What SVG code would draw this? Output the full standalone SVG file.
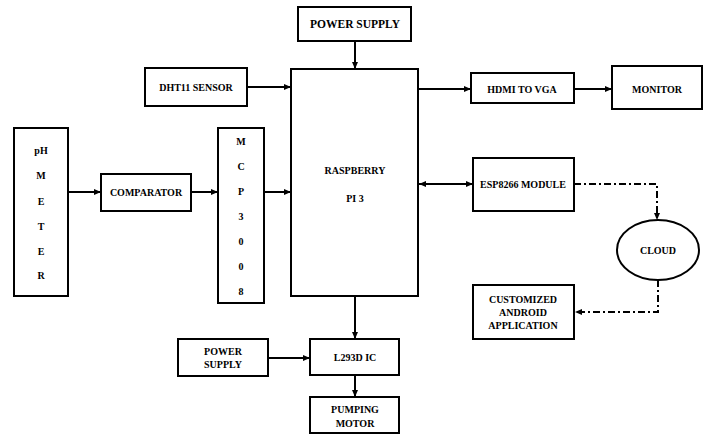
<svg xmlns="http://www.w3.org/2000/svg" width="711" height="437" viewBox="0 0 711 437">
<style>
.box{fill:#fff;stroke:#000;stroke-width:2}
.t{font-family:"Liberation Serif","Times New Roman",serif;font-weight:bold;font-size:10px;fill:#000;text-anchor:middle}
.c{stroke:#000;stroke-width:2;fill:none}
.d{stroke:#000;stroke-width:2;fill:none;stroke-dasharray:7,3,2,3}
</style>
<defs>
<marker id="ah" markerUnits="userSpaceOnUse" markerWidth="8" markerHeight="8" refX="7" refY="4" orient="auto">
<path d="M0,1 L7,4 L0,7 Z" fill="#000"/>
</marker>
<marker id="as" markerUnits="userSpaceOnUse" markerWidth="8" markerHeight="8" refX="0" refY="4" orient="auto">
<path d="M7,1 L0,4 L7,7 Z" fill="#000"/>
</marker>
</defs>
<rect width="711" height="437" fill="#fff"/>
<g id="connectors">
<line class="c" x1="355" y1="41" x2="355" y2="69" marker-end="url(#ah)"/>
<line class="c" x1="247" y1="87" x2="291" y2="87" marker-end="url(#ah)"/>
<line class="c" x1="68" y1="192" x2="101" y2="192" marker-end="url(#ah)"/>
<line class="c" x1="191" y1="192" x2="218" y2="192" marker-end="url(#ah)"/>
<line class="c" x1="264" y1="192" x2="291" y2="192" marker-end="url(#ah)"/>
<line class="c" x1="418" y1="89" x2="471" y2="89" marker-end="url(#ah)"/>
<line class="c" x1="574" y1="89" x2="612" y2="89" marker-end="url(#ah)"/>
<line class="c" x1="419" y1="184" x2="473" y2="184" marker-start="url(#as)" marker-end="url(#ah)"/>
<polyline class="d" points="574,184 657,184 657,220" marker-end="url(#ah)"/>
<polyline class="d" points="658,280 658,312 575,312" marker-end="url(#ah)"/>
<line class="c" x1="355" y1="296" x2="355" y2="339" marker-end="url(#ah)"/>
<line class="c" x1="268" y1="358" x2="310" y2="358" marker-end="url(#ah)"/>
<line class="c" x1="355" y1="375" x2="355" y2="397" marker-end="url(#ah)"/>
</g>
<g id="power-supply-top">
<rect class="box" x="298" y="7" width="113" height="34"/>
<text class="t" x="355" y="28" style="font-size:11.5px">POWER SUPPLY</text>
</g>
<g id="dht11">
<rect class="box" x="145" y="68" width="102" height="38"/>
<text class="t" x="196" y="90.5">DHT11 SENSOR</text>
</g>
<g id="ph-meter">
<rect class="box" x="14" y="128" width="54" height="168"/>
<text class="t" x="41" y="153.5">pH</text>
<text class="t" x="41" y="179">M</text>
<text class="t" x="41" y="205">E</text>
<text class="t" x="41" y="230">T</text>
<text class="t" x="41" y="255">E</text>
<text class="t" x="41" y="279">R</text>
</g>
<g id="comparator">
<rect class="box" x="101" y="174" width="90" height="37"/>
<text class="t" x="146" y="195.5">COMPARATOR</text>
</g>
<g id="mcp3008">
<rect class="box" x="218" y="128" width="46" height="175"/>
<text class="t" x="241" y="144.5">M</text>
<text class="t" x="241" y="169.5">C</text>
<text class="t" x="241" y="194.5">P</text>
<text class="t" x="241" y="219.5">3</text>
<text class="t" x="241" y="244.5">0</text>
<text class="t" x="241" y="269.5">0</text>
<text class="t" x="241" y="294.5">8</text>
</g>
<g id="raspberry">
<rect class="box" x="291" y="69" width="127" height="227"/>
<text class="t" x="355" y="173.5">RASPBERRY</text>
<text class="t" x="355" y="201.5">PI 3</text>
</g>
<g id="hdmi">
<rect class="box" x="471" y="73" width="103" height="30"/>
<text class="t" x="522" y="92.5">HDMI TO VGA</text>
</g>
<g id="monitor">
<rect class="box" x="612" y="66" width="90" height="43"/>
<text class="t" x="657" y="92.5">MONITOR</text>
</g>
<g id="esp8266">
<rect class="box" x="473" y="158" width="101" height="53"/>
<text class="t" x="523" y="187.5">ESP8266 MODULE</text>
</g>
<g id="cloud">
<ellipse class="box" cx="658" cy="250" rx="41" ry="30"/>
<text class="t" x="658" y="253.5">CLOUD</text>
</g>
<g id="android">
<rect class="box" x="473" y="285" width="101" height="54"/>
<text class="t" x="523" y="302.5">CUSTOMIZED</text>
<text class="t" x="523" y="315.5">ANDROID</text>
<text class="t" x="523" y="328.5">APPLICATION</text>
</g>
<g id="power-supply-bottom">
<rect class="box" x="178" y="339" width="90" height="37"/>
<text class="t" x="223" y="354.5">POWER</text>
<text class="t" x="223" y="367.5">SUPPLY</text>
</g>
<g id="l293d">
<rect class="box" x="310" y="339" width="89" height="36"/>
<text class="t" x="355" y="360.5">L293D IC</text>
</g>
<g id="pumping-motor">
<rect class="box" x="310" y="397" width="89" height="36"/>
<text class="t" x="355" y="412.5">PUMPING</text>
<text class="t" x="355" y="426.5">MOTOR</text>
</g>
</svg>
